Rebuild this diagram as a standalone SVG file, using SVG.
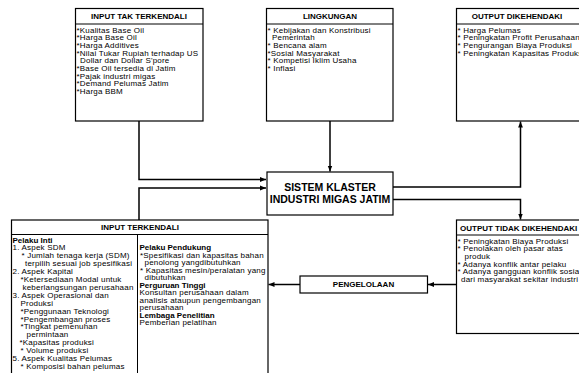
<svg xmlns="http://www.w3.org/2000/svg" width="579" height="373" viewBox="0 0 579 373">
  <style>
    .box { fill: #ffffff; stroke: #000000; stroke-width: 1.2; }
    .sep { fill: none; stroke: #000000; stroke-width: 1; }
    .conn { fill: none; stroke: #000000; stroke-width: 1.5; }
    text { font-family: "Liberation Sans", Arial, sans-serif; font-size: 8px; letter-spacing: 0.2px; fill: #000000; }
    .hd { font-weight: bold; letter-spacing: 0; text-anchor: middle; }
    .b { font-weight: bold; letter-spacing: 0; }
    .big { font-weight: bold; font-size: 10.5px; letter-spacing: 0; text-anchor: middle; }
  </style>
  <defs>
    <marker id="arrow" markerUnits="userSpaceOnUse" markerWidth="7" markerHeight="6" refX="6" refY="3" orient="auto">
      <path d="M0,0.6 L6,3 L0,5.4 Z" fill="#000000"/>
    </marker>
  </defs>
  <rect width="579" height="373" fill="#ffffff"/>

  <!-- connectors -->
  <g id="connectors">
    <path class="conn" d="M139,121 V179.5 H266" marker-end="url(#arrow)"/>
    <path class="conn" d="M139,220 V188 H266" marker-end="url(#arrow)"/>
    <path class="conn" d="M330,121 V171.5" marker-end="url(#arrow)"/>
    <path class="conn" d="M393,187 H520.5 V121.5" marker-end="url(#arrow)"/>
    <path class="conn" d="M393,199.5 H520.5 V219.5" marker-end="url(#arrow)"/>
    <path class="conn" d="M456.5,284.5 H428" marker-end="url(#arrow)"/>
    <path class="conn" d="M300,284.5 H268.5" marker-end="url(#arrow)"/>
  </g>

  <!-- uncontrolled inputs -->
  <g id="input-tak-terkendali">
    <rect class="box" x="75.5" y="8.5" width="127.5" height="112.5"/>
    <line class="sep" x1="75.5" y1="24" x2="203" y2="24"/>
    <text class="hd" x="139" y="19">INPUT TAK TERKENDALI</text>
    <text x="76.5" y="32.5">*Kualitas Base Oil</text>
    <text x="76.5" y="40.2">*Harga Base Oil</text>
    <text x="76.5" y="47.9">*Harga Additives</text>
    <text x="76.5" y="55.6">*Nilai Tukar Rupiah terhadap US</text>
    <text x="80" y="63.3">Dollar dan Dollar S'pore</text>
    <text x="76.5" y="71">*Base Oil tersedia di Jatim</text>
    <text x="76.5" y="78.7">*Pajak industri migas</text>
    <text x="76.5" y="86.4">*Demand Pelumas Jatim</text>
    <text x="76.5" y="94.1">*Harga BBM</text>
  </g>

  <!-- environment -->
  <g id="lingkungan">
    <rect class="box" x="266.5" y="8.5" width="126.5" height="112.5"/>
    <line class="sep" x1="266.5" y1="24" x2="393" y2="24"/>
    <text class="hd" x="330" y="19">LINGKUNGAN</text>
    <text x="267.5" y="32.5">* Kebijakan dan Konstribusi</text>
    <text x="272" y="40.2">Pemerintah</text>
    <text x="267.5" y="47.9">* Bencana alam</text>
    <text x="267.5" y="55.6">*Sosial Masyarakat</text>
    <text x="267.5" y="63.3">* Kompetisi Iklim Usaha</text>
    <text x="267.5" y="71">* Inflasi</text>
  </g>

  <!-- desired outputs -->
  <g id="output-dikehendaki">
    <rect class="box" x="456.5" y="8.5" width="140" height="112.5"/>
    <line class="sep" x1="456.5" y1="24" x2="579" y2="24"/>
    <text class="hd" x="517" y="19">OUTPUT DIKEHENDAKI</text>
    <text x="457.5" y="32.5">* Harga Pelumas</text>
    <text x="457.5" y="40.2">* Peningkatan Profit Perusahaan</text>
    <text x="457.5" y="47.9">* Pengurangan Biaya Produksi</text>
    <text x="457.5" y="55.6">* Peningkatan Kapasitas Produksi</text>
  </g>

  <!-- system -->
  <g id="sistem-klaster">
    <rect class="box" x="267" y="172" width="126" height="43"/>
    <text class="big" x="330" y="190.5">SISTEM KLASTER</text>
    <text class="big" x="330" y="203">INDUSTRI MIGAS JATIM</text>
  </g>

  <!-- controlled inputs -->
  <g id="input-terkendali">
    <rect class="box" x="11.5" y="220" width="256.5" height="170"/>
    <line class="sep" x1="11.5" y1="234.5" x2="268" y2="234.5"/>
    <line class="sep" x1="137.5" y1="234.5" x2="137.5" y2="380"/>
    <text class="hd" x="140" y="230">INPUT TERKENDALI</text>
    <text class="b" x="12.5" y="242.5">Pelaku Inti</text>
    <text x="12.5" y="250.4">1. Aspek SDM</text>
    <text x="21.5" y="258.3">* Jumlah tenaga kerja (SDM)</text>
    <text x="25" y="266.2">terpilih sesuai  job spesifikasi</text>
    <text x="12.5" y="274.1">2. Aspek Kapital</text>
    <text x="20.5" y="282">*Ketersediaan Modal untuk</text>
    <text x="22.5" y="289.9">keberlangsungan perusahaan</text>
    <text x="12.5" y="297.8">3. Aspek Operasional dan</text>
    <text x="20.5" y="305.7">Produksi</text>
    <text x="20.5" y="313.6">*Penggunaan Teknologi</text>
    <text x="20.5" y="321.5">*Pengembangan proses</text>
    <text x="20.5" y="329.4">*Tingkat pemenuhan</text>
    <text x="26.5" y="337.3">permintaan</text>
    <text x="19.5" y="345.2">*Kapasitas produksi</text>
    <text x="20.5" y="353.1">* Volume produksi</text>
    <text x="12.5" y="361">5. Aspek Kualitas Pelumas</text>
    <text x="20.5" y="368.9">* Komposisi bahan pelumas</text>
    <text class="b" x="139.5" y="250.4">Pelaku Pendukung</text>
    <text x="140" y="257.9">*Spesifikasi dan kapasitas bahan</text>
    <text x="144.5" y="265.4">penolong yangdibutuhkan</text>
    <text x="140" y="272.9">* Kapasitas mesin/peralatan yang</text>
    <text x="144.5" y="280.4">dibutuhkan</text>
    <text class="b" x="139.5" y="287.9">Perguruan Tinggi</text>
    <text x="139.5" y="295.4">Konsultan perusahaan dalam</text>
    <text x="139.5" y="302.9">analisis ataupun pengembangan</text>
    <text x="139.5" y="310.4">perusahaan</text>
    <text class="b" x="139.5" y="317.9">Lembaga Penelitian</text>
    <text x="139.5" y="325.4">Pemberian pelatihan</text>
  </g>

  <!-- management -->
  <g id="pengelolaan">
    <rect class="box" x="300" y="276" width="127.5" height="17"/>
    <text class="hd" x="363.5" y="287.3">PENGELOLAAN</text>
  </g>

  <!-- undesired outputs -->
  <g id="output-tidak-dikehendaki">
    <rect class="box" x="456.5" y="220" width="140" height="113.5"/>
    <line class="sep" x1="456.5" y1="235" x2="579" y2="235"/>
    <text class="b" x="460" y="230.5" letter-spacing="0.15">OUTPUT TIDAK DIKEHENDAKI</text>
    <text x="457.5" y="243.8">* Peningkatan Biaya Produksi</text>
    <text x="457.5" y="251.4">* Penolakan oleh pasar atas</text>
    <text x="464.5" y="259">produk</text>
    <text x="457.5" y="266.6">* Adanya konflik antar pelaku</text>
    <text x="457.5" y="274.2">* Adanya gangguan konflik sosial</text>
    <text x="461" y="281.8">dari masyarakat sekitar industri</text>
  </g>
</svg>
